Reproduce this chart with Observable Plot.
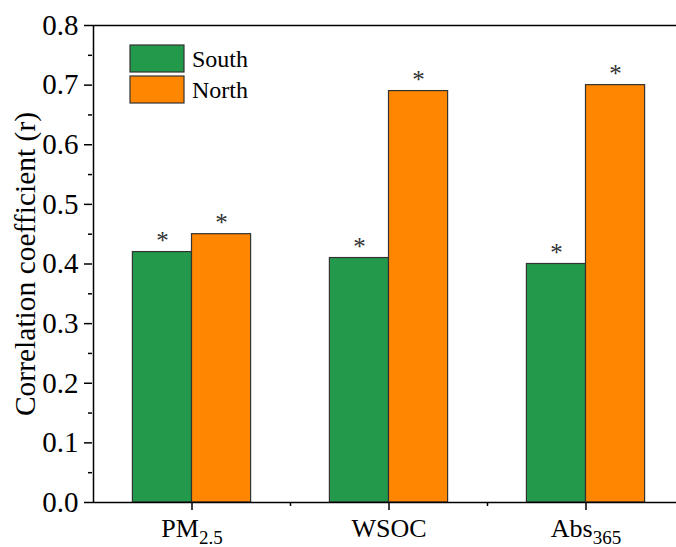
<!DOCTYPE html>
<html>
<head>
<meta charset="utf-8">
<script src="https://cdn.jsdelivr.net/npm/d3@7"></script>
<script src="https://cdn.jsdelivr.net/npm/@observablehq/plot@0.6"></script>
<style>
  html, body { margin: 0; padding: 0; background: #fff; }
  #chart { width: 676px; height: 547px; overflow: hidden; }
</style>
</head>
<body>
<div id="chart"></div>
<script>
const categories = ["PM2.5", "WSOC", "Abs365"];
const labelMain = ["PM", "WSOC", "Abs"];
const labelSub = ["2.5", "", "365"];
const seriesNames = ["South", "North"];
const southValues = [0.42, 0.41, 0.40];
const northValues = [0.45, 0.69, 0.70];
const significance = ["*", "*", "*"];
const seriesColors = ["#23994b", "#ff8600"];
const yTicks = [0, 0.1, 0.2, 0.3, 0.4, 0.5, 0.6, 0.7, 0.8];
const yMinorTicks = [0.05, 0.15, 0.25, 0.35, 0.45, 0.55, 0.65, 0.75];
const xMinorTicks = [0.5, 1.5];
const yTitle = "Correlation coefficient (r)";

const BW = 0.3;
const data = [];
categories.forEach((c, i) => {
  data.push({i, series: "South", value: southValues[i], x1: i - BW, x2: i, sig: significance[i]});
  data.push({i, series: "North", value: northValues[i], x1: i, x2: i + BW, sig: significance[i]});
});

const font = "'Liberation Serif', 'Times New Roman', serif";

const chart = Plot.plot({
  width: 676,
  height: 547,
  marginLeft: 92,
  marginTop: 25,
  marginBottom: 45,
  marginRight: 0,
  style: {fontFamily: font, fontSize: "26px", color: "#000", background: "#fff"},
  x: {type: "linear", domain: [-0.5, 2.5], range: [93, 684], axis: null},
  y: {domain: [0, 0.8], range: [502, 25], axis: null},
  color: {domain: seriesNames, range: seriesColors},
  marks: [
    Plot.rect(data, {x1: "x1", x2: "x2", y1: 0, y2: "value", fill: "series", stroke: "#333", strokeWidth: 1.2}),
    Plot.text(data, {x: d => (d.x1 + d.x2) / 2, y: "value", text: "sig", dy: -11, fontSize: 25, fill: "#333", lineAnchor: "middle"}),
    Plot.ruleY([0], {stroke: "#000", strokeWidth: 1.5}),
    Plot.ruleY([0.8], {stroke: "#000", strokeWidth: 1.5}),
    Plot.ruleX([-0.5], {y1: 0, y2: 0.8, stroke: "#000", strokeWidth: 1.5}),
    Plot.axisY(yTicks, {tickSize: 8, tickPadding: 6, tickFormat: d => d.toFixed(1), fontSize: 29, label: yTitle, labelAnchor: "center", labelOffset: 78, strokeWidth: 1.5}),
    Plot.axisY(yMinorTicks, {tickSize: 4, tickFormat: () => "", label: null, strokeWidth: 1.5}),
    Plot.axisX([0, 1, 2], {tickSize: 8, tickPadding: 8, tickFormat: i => categories[i], fontSize: 26, label: null, strokeWidth: 1.5}),
    Plot.axisX(xMinorTicks, {tickSize: 4, tickFormat: () => "", label: null, strokeWidth: 1.5})
  ]
});

document.getElementById("chart").appendChild(chart);

const svg = d3.select(chart.tagName.toLowerCase() === "svg" ? chart : chart.querySelector("svg"));

// explicit font sizes
svg.selectAll('g[aria-label="y-axis tick label"]').attr("font-size", 29);
svg.selectAll('g[aria-label="x-axis tick label"]').attr("font-size", 26);

// subscripts for x tick labels
svg.selectAll('g[aria-label="x-axis tick label"] text').each(function() {
  const t = d3.select(this);
  const idx = categories.indexOf(t.text());
  if (idx < 0) return;
  t.text(null);
  t.append("tspan").text(labelMain[idx]);
  if (labelSub[idx]) {
    t.append("tspan").attr("dy", 7).attr("font-size", 19).text(labelSub[idx]);
  }
});

// y label: plain text, no arrow
svg.selectAll('g[aria-label="y-axis label"]').attr("font-size", 29.5);
svg.selectAll('g[aria-label="y-axis label"] text').text(yTitle);

// legend
const lg = svg.append("g").attr("font-family", font).attr("font-size", 24).attr("text-anchor", "start");
seriesNames.forEach((name, k) => {
  const y0 = 45 + k * 31;
  lg.append("rect").attr("x", 130).attr("y", y0).attr("width", 54).attr("height", 27)
    .attr("fill", seriesColors[k]).attr("stroke", "#333").attr("stroke-width", 1.2);
  lg.append("text").attr("x", 192).attr("y", y0 + 13.5).attr("dy", "0.35em").attr("fill", "#000").text(name);
});
</script>
</body>
</html>
